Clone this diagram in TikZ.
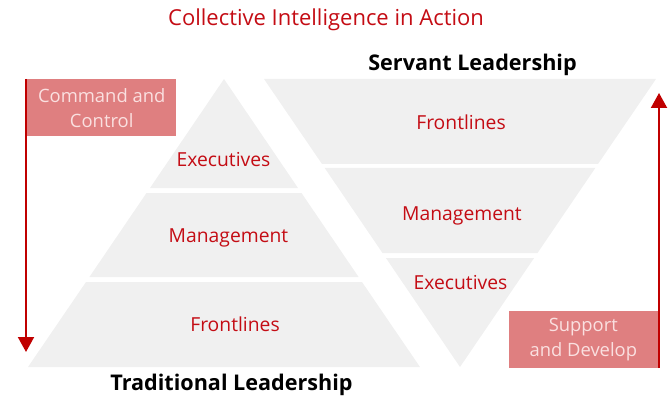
\documentclass[tikz,border=0pt]{standalone}
\usepackage{fontspec}
\setmainfont{Open Sans}
\usetikzlibrary{arrows.meta,positioning,calc}

\definecolor{tierred}{RGB}{196,12,20}
\definecolor{tierfill}{RGB}{240,240,240}
\definecolor{flowred}{RGB}{192,0,0}
\definecolor{flowfill}{RGB}{223,127,128}
\definecolor{flowtext}{RGB}{250,224,224}

\tikzset{
tier/.style={
  fill=tierfill,
  draw=none
},
tierlabel/.style={
  anchor=base,
  inner sep=0pt,
  font=\fontsize{19.3}{22}\selectfont,
  text=tierred
},
heading/.style={
  anchor=base,
  inner sep=0pt,
  font=\bfseries\fontsize{21.6}{24}\selectfont,
  text=black
},
titlelabel/.style={
  anchor=base,
  inner sep=0pt,
  font=\fontsize{22}{24}\selectfont,
  text=tierred
},
flowbox/.style={
  fill=flowfill,
  text=flowtext,
  align=center,
  inner sep=0pt,
  minimum width=149pt,
  minimum height=57pt,
  font=\fontsize{18.4}{25}\selectfont
},
flowarrow/.style={
  -{Triangle[length=15pt,width=16pt]},
  line width=2pt,
  draw=flowred
}
}

\begin{document}
\begin{tikzpicture}[x=1pt,y=-1pt]
  \useasboundingbox (0,0) rectangle (671,398);

  % traditional pyramid
  \fill[tier] (224,79) -- (298,188) -- (150,188) -- cycle;
  \fill[tier] (146.5,193) -- (301.5,193) -- (358.6,277) -- (89.4,277) -- cycle;
  \fill[tier] (86,282) -- (362,282) -- (420,367) -- (28,367) -- cycle;

  % servant pyramid, upside down
  \fill[tier] (264,79) -- (656,79) -- (598,164) -- (322,164) -- cycle;
  \fill[tier] (324.7,168) -- (595.3,168) -- (537.5,253) -- (382.5,253) -- cycle;
  \fill[tier] (385.9,258) -- (534.1,258) -- (460,367) -- cycle;

  \node[titlelabel] (title) at (326,26) {Collective Intelligence in Action};
  \node[heading] (servant) at (472.5,71) {Servant Leadership};
  \node[heading] (traditional) at (231.5,390) {Traditional Leadership};

  \node[tierlabel] (texec) at (223.5,167) {Executives};
  \node[tierlabel] (tmgmt) at (228.5,242) {Management};
  \node[tierlabel] (tfront) at (235,331) {Frontlines};

  \node[tierlabel] (sfront) at (461,130) {Frontlines};
  \node[tierlabel] (smgmt) at (462,220) {Management};
  \node[tierlabel] (sexec) at (460.5,289) {Executives};

  % flow boxes with their arrows
  \node[flowbox, anchor=north west] (command) at (27,79) {Command and\\Control};
  \node[flowbox, anchor=south east] (support) at (658,368) {Support\\and Develop};

  \coordinate (commandend) at (26,352);
  \coordinate (supportend) at (659,93);
  \draw[flowarrow] ([xshift=-1pt]command.north west) -- (commandend);
  \draw[flowarrow] ([xshift=1pt]support.south east) -- (supportend);
\end{tikzpicture}
\end{document}
